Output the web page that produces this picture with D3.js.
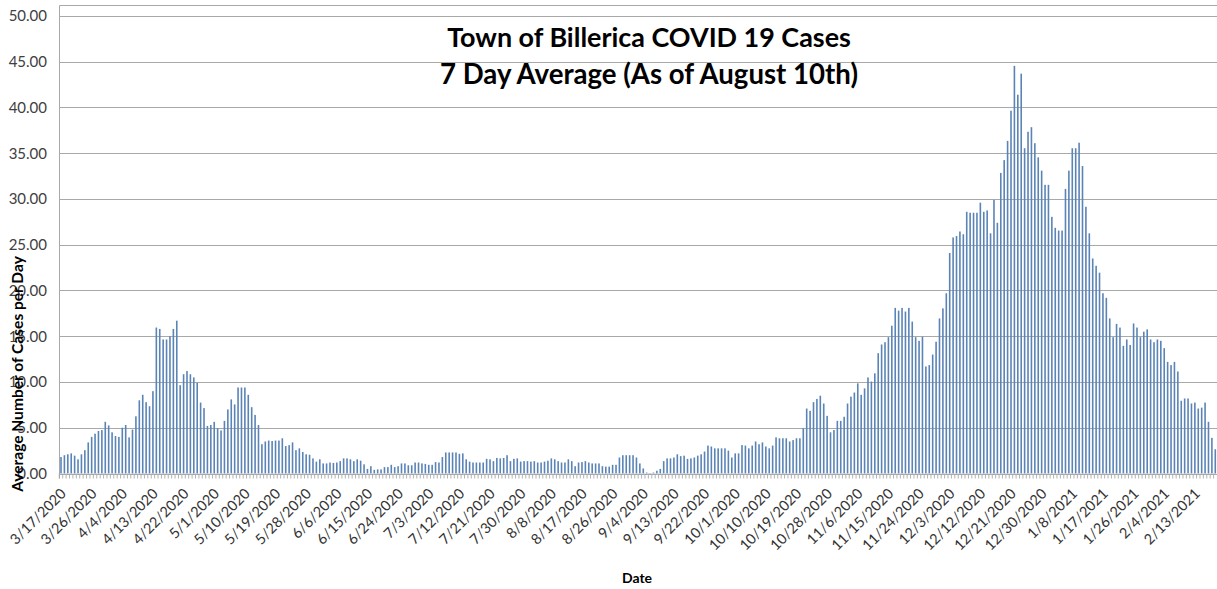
<!DOCTYPE html>
<html><head><meta charset="utf-8">
<script src="https://cdn.jsdelivr.net/npm/d3@7"></script>
<style>body{margin:0;background:#fff;} svg{display:block;}</style>
</head><body>
<svg id="c" width="1217" height="589"></svg>
<script>
const titleLines = ["Town of Billerica COVID 19 Cases", "7 Day Average (As of August 10th)"];
const yTitle = "Average Number of Cases per Day";
const xTitle = "Date";
const startDate = "2020-03-17";
const yTicks = [0, 5, 10, 15, 20, 25, 30, 35, 40, 45, 50];
const xTickLabels = ["3/17/2020","3/26/2020","4/4/2020","4/13/2020","4/22/2020","5/1/2020","5/10/2020","5/19/2020","5/28/2020","6/6/2020","6/15/2020","6/24/2020","7/3/2020","7/12/2020","7/21/2020","7/30/2020","8/8/2020","8/17/2020","8/26/2020","9/4/2020","9/13/2020","9/22/2020","10/1/2020","10/10/2020","10/19/2020","10/28/2020","11/6/2020","11/15/2020","11/24/2020","12/3/2020","12/12/2020","12/21/2020","12/30/2020","1/8/2021","1/17/2021","1/26/2021","2/4/2021","2/13/2021"];
const avgCases = [
1.8,2.0,2.1,2.2,1.95,1.55,2.1,2.55,3.4,4.0,
4.35,4.65,4.75,5.65,5.25,4.5,4.1,4.0,5.0,5.3,
3.95,4.8,6.25,8.0,8.6,7.8,7.35,9.0,15.95,15.8,
14.65,14.65,15.0,15.8,16.7,9.65,10.85,11.2,10.85,10.5,
9.9,7.75,7.15,5.2,5.3,5.65,4.95,4.7,5.75,7.0,
8.1,7.55,9.4,9.4,9.4,8.6,7.25,6.4,5.3,3.2,
3.5,3.6,3.55,3.6,3.6,3.85,3.0,3.1,3.4,2.55,
2.75,2.35,2.1,2.05,1.65,1.3,1.55,1.1,1.1,1.2,
1.15,1.2,1.35,1.65,1.65,1.55,1.35,1.55,1.4,1.0,
0.5,0.8,0.4,0.45,0.45,0.7,0.7,0.95,0.7,0.8,
1.1,1.1,0.9,0.9,1.2,1.2,1.1,1.05,0.95,0.95,
1.25,1.2,1.8,2.3,2.3,2.3,2.3,2.15,2.2,1.55,
1.3,1.2,1.2,1.2,1.2,1.6,1.55,1.35,1.7,1.65,
1.7,2.0,1.35,1.6,1.65,1.3,1.35,1.35,1.3,1.35,
1.2,1.2,1.3,1.4,1.65,1.55,1.35,1.2,1.2,1.55,
1.35,0.8,1.2,1.25,1.35,1.2,1.1,1.1,1.1,0.8,
0.75,0.75,0.95,0.95,1.75,2.0,2.0,2.0,2.0,1.75,
1.1,0.55,0.1,0.05,0.1,0.3,0.5,1.35,1.65,1.65,
1.75,2.1,1.9,1.95,1.6,1.65,1.75,1.95,2.1,2.4,
3.05,2.95,2.75,2.75,2.75,2.75,2.5,1.75,2.2,2.2,
3.1,3.05,2.75,3.05,3.5,3.2,3.4,2.95,2.75,3.05,
3.95,3.85,3.85,3.85,3.5,3.65,3.85,3.85,4.95,7.1,
6.85,7.8,8.15,8.5,7.65,6.3,4.5,4.75,5.75,5.75,
6.2,7.65,8.4,8.85,9.85,8.6,9.3,10.5,10.05,10.95,
13.15,14.1,14.35,14.9,16.15,18.1,17.8,18.1,17.7,18.1,
16.6,14.9,14.5,14.95,11.7,11.85,13.0,14.4,16.95,18.05,
19.7,24.1,25.8,25.95,26.45,26.15,28.6,28.5,28.5,28.5,
29.6,28.6,28.75,26.25,29.9,27.4,32.85,34.25,36.35,39.65,
44.55,41.4,43.7,35.55,37.35,37.85,36.1,34.55,33.1,31.55,
31.55,28.05,26.85,26.55,26.55,31.1,33.1,35.55,35.55,36.15,
33.6,29.15,26.25,23.5,22.7,21.95,19.7,19.2,16.95,14.9,
16.35,15.95,13.95,14.65,14.05,16.4,15.95,14.9,15.5,15.75,
14.65,14.35,14.65,14.5,13.7,12.2,11.85,12.2,11.15,7.95,
8.2,8.2,7.65,7.75,7.1,7.2,7.75,5.65,3.9,2.65
];

const fmt = d3.timeFormat("%-m/%-d/%Y");
const start = d3.timeParse("%Y-%m-%d")(startDate);
const categories = avgCases.map((v, i) => fmt(d3.timeDay.offset(start, i)));

const svg = d3.select("#c");
const plotL = 59.3, plotR = 1217, plotTop = 16, plotBot = 473.5;

const x = d3.scaleBand().domain(categories).range([plotL, plotR]).paddingInner(0.53).paddingOuter(0.265);
const y = d3.scaleLinear().domain([0, 50]).range([plotBot, plotTop]);
const step = x.step();

const gridColor = "#a9a9a9";
const fontFam = "Lato, 'Open Sans', sans-serif";

// top border line
svg.append("line").attr("x1", 59.5).attr("x2", 1217).attr("y1", 5.5).attr("y2", 5.5)
  .attr("stroke", gridColor).attr("stroke-width", 1);

// gridlines
svg.append("g").selectAll("line").data(yTicks).join("line")
  .attr("x1", plotL).attr("x2", plotR)
  .attr("y1", d => Math.round(y(d)) + 0.5).attr("y2", d => Math.round(y(d)) + 0.5)
  .attr("stroke", gridColor).attr("stroke-width", 1);

// y axis line
svg.append("line").attr("x1", 59.5).attr("x2", 59.5).attr("y1", 5.5).attr("y2", plotBot + 5)
  .attr("stroke", gridColor);

// y tick labels
svg.append("g").selectAll("text").data(yTicks).join("text")
  .attr("x", 47).attr("y", d => y(d)).attr("dy", "0.35em")
  .attr("text-anchor", "end").attr("font-family", fontFam).attr("font-size", 15)
  .attr("fill", "#404040").text(d => d.toFixed(2));

// x tick marks (category boundaries)
const bounds = categories.map(c => x(c) - (step - x.bandwidth()) / 2);
svg.append("g").selectAll("line").data(bounds).join("line")
  .attr("x1", d => d).attr("x2", d => d)
  .attr("y1", plotBot).attr("y2", plotBot + 5)
  .attr("stroke", "#a0a0a0").attr("stroke-width", 0.8);

// bars
svg.append("g").selectAll("rect").data(avgCases).join("rect")
  .attr("x", (d, i) => x(categories[i]))
  .attr("width", x.bandwidth())
  .attr("y", d => y(d))
  .attr("height", d => plotBot - y(d))
  .attr("fill", "#5b84b6");

// x axis line
svg.append("line").attr("x1", plotL).attr("x2", plotR).attr("y1", Math.round(plotBot) + 0.5).attr("y2", Math.round(plotBot) + 0.5)
  .attr("stroke", gridColor);

// x tick labels
svg.append("g").selectAll("text").data(xTickLabels).join("text")
  .attr("transform", d => `translate(${x(d) + x.bandwidth() / 2 + 6},${plotBot + 21}) rotate(-45)`)
  .attr("text-anchor", "end").attr("font-family", fontFam).attr("font-size", 14.5)
  .attr("fill", "#333333").text(d => d);

function fit(sel, target) {
  const w = sel.node().getComputedTextLength();
  const fs = parseFloat(sel.attr("font-size"));
  sel.attr("font-size", fs * target / w);
}

// titles
const t1 = svg.append("text").attr("x", 649).attr("y", 47).attr("text-anchor", "middle")
  .attr("font-family", fontFam).attr("font-weight", "bold").attr("font-size", 24).attr("fill", "#000")
  .text(titleLines[0]);
fit(t1, 404);
const t2 = svg.append("text").attr("x", 649).attr("y", 83.5).attr("text-anchor", "middle")
  .attr("font-family", fontFam).attr("font-weight", "bold").attr("font-size", 24).attr("fill", "#000")
  .text(titleLines[1]);
fit(t2, 418);

// y title
const yt = svg.append("text").attr("transform", "translate(23,374) rotate(-90)").attr("text-anchor", "middle")
  .attr("font-family", fontFam).attr("font-weight", "bold").attr("font-size", 14).attr("fill", "#000")
  .text(yTitle);
fit(yt, 236);

// x title
svg.append("text").attr("x", 637).attr("y", 583).attr("text-anchor", "middle")
  .attr("font-family", fontFam).attr("font-weight", "bold").attr("font-size", 14).attr("fill", "#000")
  .text(xTitle);
</script>
</body></html>
